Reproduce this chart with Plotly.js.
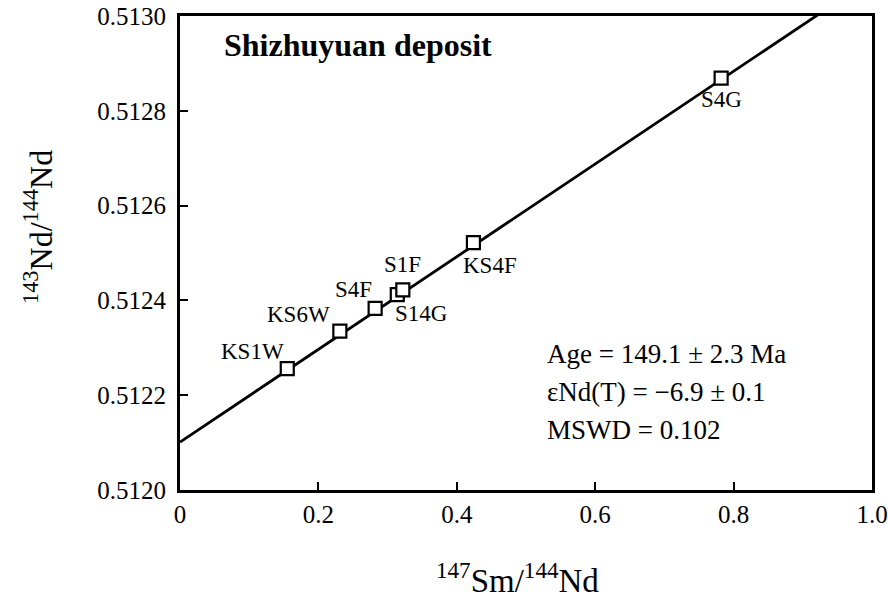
<!DOCTYPE html>
<html>
<head>
<meta charset="utf-8">
<script src="https://cdn.plot.ly/plotly-3.0.1.min.js"></script>
<style>html,body{margin:0;padding:0;background:#fff;}#chart{width:888px;height:603px;}</style>
</head>
<body>
<div id="chart"></div>
<script>
// Samples (147Sm/144Nd, 143Nd/144Nd)
const sampleNames = ["KS1W", "KS6W", "S4F", "S14G", "S1F", "KS4F", "S4G"];
const smNd = [0.155, 0.231, 0.282, 0.314, 0.322, 0.424, 0.782];
const ndNd = [0.512256, 0.512335, 0.512383, 0.512412, 0.512422, 0.512522, 0.512869];
// Isochron line
const isoX = [0, 1];
const isoY = [0.512101, 0.513079];
// Ticks
const xTickVals = [0, 0.2, 0.4, 0.6, 0.8, 1.0];
const xTickText = ["0", "0.2", "0.4", "0.6", "0.8", "1.0"];
const yTickVals = [0.5120, 0.5122, 0.5124, 0.5126, 0.5128, 0.5130];
const yTickText = ["0.5120", "0.5122", "0.5124", "0.5126", "0.5128", "0.5130"];
// Text
const panelTitle = "Shizhuyuan deposit";
const statLines = ["Age = 149.1 ± 2.3 Ma", "εNd(T) = −6.9 ± 0.1", "MSWD = 0.102"];
const xTitle = "<sup>147</sup>Sm/<sup>144</sup>Nd";
const yTitle = "<sup>143</sup>Nd/<sup>144</sup>Nd";

const FONT = "Liberation Serif, Times New Roman, serif";

// label offsets (pixels) for each sample label
const labelShift = {
  "KS1W": [-35, 17],
  "KS6W": [-41, 17],
  "S4F": [-22, 19],
  "S14G": [24, -19],
  "S1F": [0, 25],
  "KS4F": [17, -23],
  "S4G": [0, -21]
};

const traces = [
  {
    x: isoX, y: isoY, mode: "lines", type: "scatter",
    line: {color: "#000", width: 2.8}, hoverinfo: "skip", showlegend: false
  },
  {
    x: smNd, y: ndNd, mode: "markers", type: "scatter",
    marker: {symbol: "square", size: 13, color: "#fff", line: {color: "#000", width: 2.2}},
    showlegend: false
  }
];

const annotations = [];
sampleNames.forEach((n, i) => {
  annotations.push({
    x: smNd[i], y: ndNd[i], xref: "x", yref: "y", text: n, showarrow: false,
    xshift: labelShift[n][0], yshift: labelShift[n][1],
    font: {family: FONT, size: 23, color: "#000"}
  });
});
annotations.push({
  xref: "paper", yref: "paper", x: 0.061, y: 0.938, xanchor: "left", yanchor: "middle",
  text: "<b>" + panelTitle + "</b>", showarrow: false,
  font: {family: FONT, size: 32, color: "#000"}
});
const statY = [0.287, 0.207, 0.127];
statLines.forEach((t, i) => {
  annotations.push({
    xref: "paper", yref: "paper", x: 0.528, y: statY[i], xanchor: "left", yanchor: "middle",
    text: t, showarrow: false, font: {family: FONT, size: 27, color: "#000"}
  });
});
annotations.push({
  xref: "paper", yref: "paper", x: 0.488, y: -0.185, xanchor: "center", yanchor: "middle",
  text: xTitle, showarrow: false, font: {family: FONT, size: 33, color: "#000"}
});
annotations.push({
  xref: "paper", yref: "paper", x: -0.205, y: 0.555, xanchor: "center", yanchor: "middle",
  text: yTitle, textangle: -90, showarrow: false, font: {family: FONT, size: 32, color: "#000"}
});

const layout = {
  width: 888, height: 603,
  margin: {l: 180, r: 16, t: 16, b: 113},
  paper_bgcolor: "#fff", plot_bgcolor: "#fff",
  showlegend: false,
  font: {family: FONT, color: "#000"},
  xaxis: {
    range: [0, 1], tickvals: xTickVals, ticktext: xTickText,
    ticks: "inside", ticklen: 8, tickwidth: 2, tickcolor: "#000",
    showline: true, linewidth: 3, linecolor: "#000", mirror: true,
    showgrid: false, zeroline: false,
    tickfont: {family: FONT, size: 25, color: "#000"}
  },
  yaxis: {
    range: [0.5120, 0.5130], tickvals: yTickVals, ticktext: yTickText,
    ticks: "inside", ticklen: 8, tickwidth: 2, tickcolor: "#000",
    showline: true, linewidth: 3, linecolor: "#000", mirror: true,
    showgrid: false, zeroline: false, ticklabelstandoff: 6,
    tickfont: {family: FONT, size: 25, color: "#000"}
  },
  annotations: annotations
};

Plotly.newPlot("chart", traces, layout, {staticPlot: true});
</script>
</body>
</html>
